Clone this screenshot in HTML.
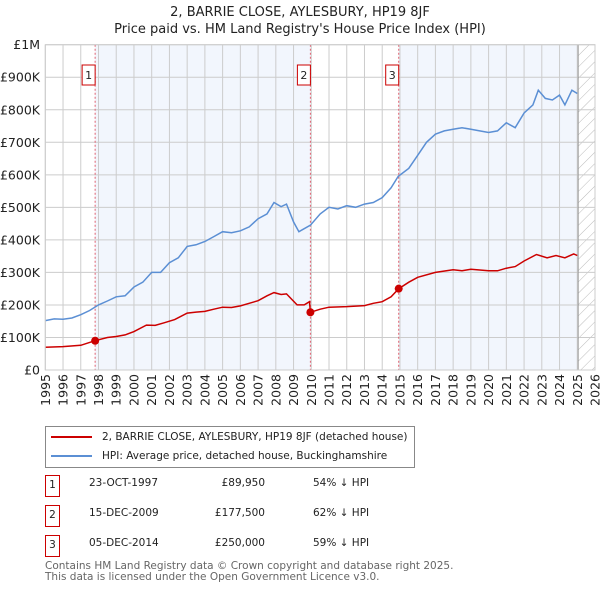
<!DOCTYPE html>
<html><head><meta charset="utf-8"><style>
body{margin:0;background:#fff;font-family:"DejaVu Sans","Liberation Sans",sans-serif;}
#wrap{position:relative;width:600px;height:590px;overflow:hidden;}
svg text{font-family:"DejaVu Sans","Liberation Sans",sans-serif;}
.tbl div{white-space:nowrap;}
</style></head><body><div id="wrap">
<svg id="c" width="600" height="590"></svg>
</div>
<script>
const hpiYears=[1995,1995.5,1996,1996.5,1997,1997.5,1998,1998.5,1999,1999.5,2000,2000.5,2001,2001.5,2002,2002.5,2003,2003.5,2004,2004.5,2005,2005.5,2006,2006.5,2007,2007.5,2007.9,2008.3,2008.6,2009.0,2009.3,2009.95,2010.5,2011,2011.5,2012,2012.5,2013,2013.5,2014,2014.5,2014.9,2015.5,2016,2016.5,2017,2017.5,2018,2018.5,2019,2019.5,2020,2020.5,2021,2021.5,2022,2022.5,2022.8,2023.2,2023.6,2024,2024.3,2024.7,2025];
const hpiValues=[152,157,156,160,170,183,200,212,225,228,255,270,300,300,330,345,380,385,395,410,425,422,428,440,465,480,515,502,510,455,425,445,480,500,495,505,500,510,515,530,560,595,620,660,700,725,735,740,745,740,735,730,735,760,745,790,815,860,835,830,845,815,860,850];
const priceYears=[1995,1996,1997,1997.8,1998.5,1999,1999.5,2000,2000.7,2001.2,2001.7,2002.3,2003,2003.5,2004,2004.5,2005,2005.5,2006,2006.5,2007,2007.5,2007.9,2008.3,2008.6,2009.2,2009.6,2009.9,2009.95,2010.5,2011,2012,2013,2013.5,2014,2014.5,2014.93,2015.5,2016,2017,2018,2018.5,2019,2020,2020.5,2021,2021.5,2022,2022.7,2023.3,2023.8,2024.3,2024.8,2025];
const priceValues=[70,72,76,89.95,100,103,108,118,138,137,145,155,175,178,180,187,193,192,197,205,213,228,238,232,234,200,200,210,177.5,187,193,195,198,205,210,225,250,270,285,300,308,305,310,305,305,313,318,335,355,345,352,345,357,352];
const saleYears=[1997.81,2009.95,2014.93];
const saleValues=[89.95,177.5,250];
const saleLabels=["1","2","3"];
const yTicks=[0,100,200,300,400,500,600,700,800,900,1000];
const yTickLabels=["£0","£100K","£200K","£300K","£400K","£500K","£600K","£700K","£800K","£900K","£1M"];
const xTicks=[1995,1996,1997,1998,1999,2000,2001,2002,2003,2004,2005,2006,2007,2008,2009,2010,2011,2012,2013,2014,2015,2016,2017,2018,2019,2020,2021,2022,2023,2024,2025,2026];

const NS="http://www.w3.org/2000/svg";
const svg=document.getElementById('c');
const L=45.3,R=595,T=44.7,B=370;
const x=v=>L+(v-1995)/(2026-1995)*(R-L);
const y=v=>B-v/1000*(B-T);
function mk(t,a,p){const e=document.createElementNS(NS,t);for(const k in a)e.setAttribute(k,a[k]);(p||svg).appendChild(e);return e;}
const defs=mk('defs',{});
const pat=mk('pattern',{id:'h',width:8,height:8,patternUnits:'userSpaceOnUse',patternTransform:'rotate(45)'},defs);
mk('line',{x1:0,y1:0,x2:0,y2:8,stroke:'#bbb','stroke-width':1},pat);
let t=mk('text',{x:300,y:16,'text-anchor':'middle','font-size':13,fill:'#222'});t.textContent='2, BARRIE CLOSE, AYLESBURY, HP19 8JF';

t=mk('text',{x:300,y:33,'text-anchor':'middle','font-size':13,fill:'#222'});t.textContent="Price paid vs. HM Land Registry's House Price Index (HPI)";

let s=mk('rect',{x:x(saleYears[0]),y:T,width:x(saleYears[1])-x(saleYears[0]),height:B-T,fill:'#f2f6fd'});

s=mk('rect',{x:x(saleYears[2]),y:T,width:x(2025)-x(saleYears[2]),height:B-T,fill:'#f2f6fd'});

s=mk('rect',{x:x(2025.05),y:T,width:R-x(2025.05),height:B-T,fill:'url(#h)'});

yTicks.forEach((v,i)=>{
 const g=mk('line',{x1:L,x2:R,y1:y(v),y2:y(v),stroke:'#ccc','stroke-width':1});
 
 const tl=mk('text',{x:40,y:y(v)+4.5,'text-anchor':'end','font-size':12.5,fill:'#222'});tl.textContent=yTickLabels[i];
 
});
xTicks.forEach(v=>{
 const g=mk('line',{x1:x(v),x2:x(v),y1:T,y2:B,stroke:'#ccc','stroke-width':1});
 
 const tl=mk('text',{x:0,y:0,'text-anchor':'end','font-size':12.5,fill:'#222',transform:`translate(${x(v)+4.5},374) rotate(-90)`});tl.textContent=v;
 
});
mk('line',{x1:x(2025.05),x2:x(2025.05),y1:T,y2:B,stroke:'#999','stroke-width':1});
saleYears.forEach((v,i)=>{
 const l=mk('line',{x1:x(v),x2:x(v),y1:T,y2:B,stroke:'#e06070','stroke-width':1,'stroke-dasharray':'2,2'});
 
 const r=mk('rect',{x:x(v)-13,y:65,width:13,height:20,fill:'#fff',stroke:'#c00','stroke-width':1});
 
 const tl=mk('text',{x:x(v)-6.5,y:79,'text-anchor':'middle','font-size':11,fill:'#222'});tl.textContent=saleLabels[i];
 
});
function path(xs,vs){return xs.map((a,i)=>(i?'L':'M')+x(a).toFixed(1)+','+y(vs[i]).toFixed(1)).join('');}
let p=mk('path',{d:path(hpiYears,hpiValues),fill:'none',stroke:'#5b8fd4','stroke-width':1.5});

p=mk('path',{d:path(priceYears,priceValues),fill:'none',stroke:'#cc0000','stroke-width':1.5});

saleYears.forEach((v,i)=>{
 const c=mk('circle',{cx:x(v),cy:y(saleValues[i]),r:4,fill:'#cc0000'});
 
});
mk('rect',{x:L,y:T,width:R-L,height:B-T,fill:'none',stroke:'#ccc'});
</script>
<div style="position:absolute;left:45px;top:426px;width:370px;height:42px;border:1px solid #888;box-sizing:border-box;font-size:10.5px;color:#222;">
 <div style="position:absolute;left:5px;top:4px;white-space:nowrap;"><span style="display:inline-block;width:41px;height:2px;background:#cc0000;vertical-align:middle;margin-right:10px;"></span>2, BARRIE CLOSE, AYLESBURY, HP19 8JF (detached house)</div>
 <div style="position:absolute;left:5px;top:23px;white-space:nowrap;"><span style="display:inline-block;width:41px;height:2px;background:#5b8fd4;vertical-align:middle;margin-right:10px;"></span>HPI: Average price, detached house, Buckinghamshire</div>
</div>
<div class="tbl" style="position:absolute;left:0;top:0;width:600px;font-size:10.5px;color:#222;">
 <div>
  <div style="position:absolute;left:45px;top:475px;width:13px;height:20px;border:1px solid #c00;text-align:center;line-height:18px;">1</div>
  <div style="position:absolute;left:89px;top:477px;">23-OCT-1997</div>
  <div style="position:absolute;left:190px;width:75px;text-align:right;top:477px;">£89,950</div>
  <div style="position:absolute;left:313px;top:477px;">54% ↓ HPI</div>
 </div>
 <div>
  <div style="position:absolute;left:45px;top:505px;width:13px;height:20px;border:1px solid #c00;text-align:center;line-height:18px;">2</div>
  <div style="position:absolute;left:89px;top:507px;">15-DEC-2009</div>
  <div style="position:absolute;left:190px;width:75px;text-align:right;top:507px;">£177,500</div>
  <div style="position:absolute;left:313px;top:507px;">62% ↓ HPI</div>
 </div>
 <div>
  <div style="position:absolute;left:45px;top:535px;width:13px;height:20px;border:1px solid #c00;text-align:center;line-height:18px;">3</div>
  <div style="position:absolute;left:89px;top:537px;">05-DEC-2014</div>
  <div style="position:absolute;left:190px;width:75px;text-align:right;top:537px;">£250,000</div>
  <div style="position:absolute;left:313px;top:537px;">59% ↓ HPI</div>
 </div>
</div>
<div style="position:absolute;left:45px;top:561px;font-size:10.5px;color:#666;line-height:10.5px;white-space:nowrap;">Contains HM Land Registry data © Crown copyright and database right 2025.<br>This data is licensed under the Open Government Licence v3.0.</div>
</body></html>
